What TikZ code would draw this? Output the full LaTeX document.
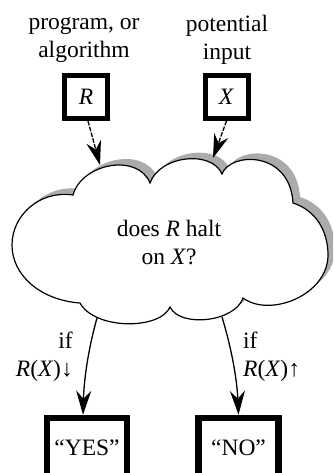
\documentclass[tikz,border=0pt]{standalone}
\usepackage{fontspec}
\setmainfont{Liberation Serif}
\usetikzlibrary{arrows.meta}
\begin{document}
\begin{tikzpicture}[x=1pt,y=-1pt,
  txt/.style={font=\fontsize{23.5}{28}\selectfont, inner sep=0pt},
  inbox/.style={draw, line width=5pt, minimum width=43pt, minimum height=43pt, inner sep=0pt, font=\fontsize{23.5}{28}\selectfont},
  outbox/.style={draw, line width=6.5pt, minimum width=80pt, inner sep=0pt, text height=37pt, text depth=40pt, font=\fontsize{23.5}{28}\selectfont},
  arr/.style={line width=1.3pt, -{Stealth[length=24pt,width=15pt,inset=8pt]}},
  darr/.style={arr, dash pattern=on 4.5pt off 1.5pt},
]
\useasboundingbox (0,0) rectangle (333,473);
\clip (0,0) rectangle (333,473);
\def\cloudoutline{(73,195) .. controls (82,163) and (138,153) .. (150,183)
  .. controls (160,155) and (212,150) .. (222,174)
  .. controls (230,152) and (290,150) .. (293,203)
  .. controls (315,210) and (328,230) .. (328,255)
  .. controls (328,295) and (270,318) .. (243,298)
  .. controls (235,322) and (180,328) .. (170,307)
  .. controls (160,330) and (95,330) .. (80,303)
  .. controls (40,300) and (12,275) .. (12,245)
  .. controls (12,215) and (40,190) .. (73,195) -- cycle}
% shadow
\fill[black!33, shift={(7,-6)}] \cloudoutline;
\filldraw[fill=white, draw=black, line width=1.2pt] \cloudoutline;

% texts on top
\node[txt, align=center] (prog) at (84,40) {program, or\\algorithm};
\node[txt, align=center] (pin) at (227,40) {potential\\input};

% input boxes
\node[inbox] (R) at (86,97) {\textit{R}};
\node[inbox] (X) at (226.5,97) {\textit{X}};

% cloud text
\node[txt, align=center] (q) at (169,243) {does \textit{R} halt\\on \textit{X}?};

% cloud contact points
\coordinate (cinR) at (100,165);
\coordinate (cinX) at (213,158);
\coordinate (coutL) at (97,318);
\coordinate (coutR) at (222,317);

\draw[darr] ([xshift=2pt]R.south) -- (cinR);
\draw[darr] (X.south) -- (cinX);

% output boxes
\node[outbox, anchor=base] (yes) at (87,455) {“YES”};
\node[outbox, anchor=base] (no) at (238.5,455) {“NO”};

\draw[arr] (coutL) .. controls (88,350) and (84,380) .. ([xshift=-4pt]yes.north);
\draw[arr] (coutR) .. controls (232,350) and (237,380) .. (no.north);

% labels
\node[txt, align=right, anchor=east] (ifL) at (73,357) {if\\\textit{R}(\textit{X})↓};
\node[txt, align=left, anchor=west] (ifR) at (243,357) {if\\\textit{R}(\textit{X})↑};
\end{tikzpicture}
\end{document}
